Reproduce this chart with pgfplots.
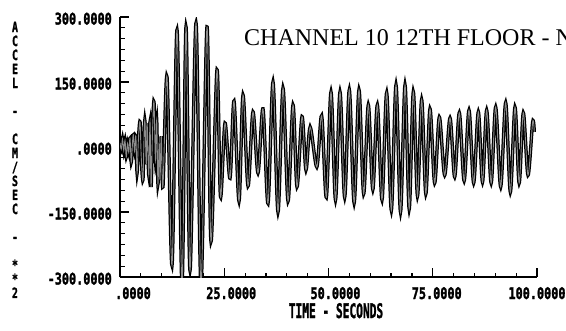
\documentclass[border=0pt]{standalone}
\usepackage{pgfplots}
\pgfplotsset{compat=1.18}
\usepackage{pgfplotstable}
\usepackage{graphicx}
\usepackage{fontspec}
\setmainfont{Liberation Serif}
\newfontfamily\tickfont{DejaVu Sans Mono}[BoldFeatures={FakeBold=2}]
\newcommand\tf[1]{\scalebox{0.74}[1]{\tickfont\bfseries\fontsize{16}{16}\selectfont #1}}
\newcommand\tfx[2]{\kern#1\tf{#2}}
\newcommand\yl[1]{\raisebox{0pt}[9.8pt][4.2pt]{#1}}

\pgfplotstableread{
t v
0.0 10
0.3 -5
0.6 18
0.9 -8
1.2 15
1.5 -23
1.8 8
2.1 -12
2.4 20
2.7 -35
3.0 10
3.2 28
3.5 -10
3.8 25
4.1 -60
4.4 15
4.8 58
5.1 -25
5.5 -76
5.8 35
6.0 58
6.3 -40
6.5 55
6.9 -65
7.2 58
7.45 -92
7.8 35
8.15 104
8.5 -30
8.8 62
9.1 -85
9.4 10
9.6 -76
9.9 25
10.3 -92
11.27 162
12.47 -273
13.67 270
14.87 -320
15.83 277
16.79 -285
18.23 286
19.42 -320
20.86 277
21.82 -218
23.26 178
24.1 -115
25.18 55
26.38 -72
27.34 106
28.54 -125
29.50 120
30.70 -90
31.89 81
33.09 -60
34.29 88
35.49 -130
36.69 150
37.89 -150
39.09 136
40.29 -125
41.49 97
42.45 -92
43.65 70
44.6 -53
45.6 46
47.2 -46
48.36 72
49.48 -116
50.60 127
51.68 -122
52.76 127
53.88 -116
54.99 132
56.15 -129
57.31 132
58.43 -108
59.55 97
60.63 -98
61.71 97
62.83 -122
63.95 125
65.07 -146
66.19 143
67.27 -150
68.35 143
69.35 -143
70.34 127
71.34 -113
72.34 109
73.34 -108
74.34 88
75.46 -83
76.58 69
77.86 -65
79.14 67
80.26 -69
81.37 79
82.53 -78
83.69 85
84.81 -83
85.93 81
86.93 -81
87.93 85
89.01 -83
90.09 92
91.29 -92
92.49 102
93.61 -104
94.72 92
95.72 -83
96.72 79
97.84 -65
98.96 58
99.35 35
}\acc

\begin{document}
\begin{tikzpicture}
\path[use as bounding box] (0,0) rectangle (566pt,330pt);
\begin{scope}
\clip (0,0) rectangle (566pt,330pt);
\begin{axis}[
  at={(120pt,53pt)}, anchor=south west,
  scale only axis, width=417pt, height=260pt,
  xmin=0, xmax=100, ymin=-300, ymax=300,
  axis x line*=bottom, axis y line*=left,
  axis line style={line width=1.6pt, -},
  xtick={0,25,50,75,100}, minor x tick num=4,
  ytick={-300,-150,0,150,300}, minor y tick num=5,
  tick align=inside, major tick length=9pt, minor tick length=4.5pt,
  every tick/.style={line width=1.2pt, black},
  xticklabels={\tfx{26pt}{.0000},\tfx{14pt}{25.0000},\tfx{14pt}{50.0000},\tfx{8pt}{75.0000},\tf{100.0000}},
  yticklabels={\tf{-300.0000},\tf{-150.0000},\tf{.0000},\tf{150.0000},\tf{300.0000}},
  xticklabel style={anchor=base, yshift=-22pt, inner sep=0pt},
  yticklabel style={anchor=base east, xshift=-8pt, yshift=-7.5pt, inner sep=0pt},
]
\addplot[black, line width=3.4pt, smooth] table {\acc};
\addplot[black!45, line width=0.9pt, smooth] table {\acc};
\end{axis}
\node[anchor=base west, inner sep=0pt, font=\fontsize{24}{24}\selectfont] at (244pt,284.5pt) {CHANNEL 10 12TH FLOOR - N};
\end{scope}
\node[anchor=base, inner sep=0pt] at (336pt,12pt) {\scalebox{0.56}[1]{\tickfont\bfseries\fontsize{20}{20}\selectfont TIME - SECONDS}};
\node[anchor=north, inner sep=0pt] at (15pt,308pt) {\scalebox{0.7}[1]{\tickfont\bfseries\fontsize{14}{14}\selectfont\begin{tabular}{@{}c@{}}\yl{A}\\\yl{C}\\\yl{C}\\\yl{E}\\\yl{L}\\\yl{}\\\yl{-}\\\yl{}\\\yl{C}\\\yl{M}\\\yl{/}\\\yl{S}\\\yl{E}\\\yl{C}\\\yl{}\\\yl{-}\\\yl{}\\\yl{*}\\\yl{*}\\\yl{2}\end{tabular}}};
\end{tikzpicture}
\end{document}
